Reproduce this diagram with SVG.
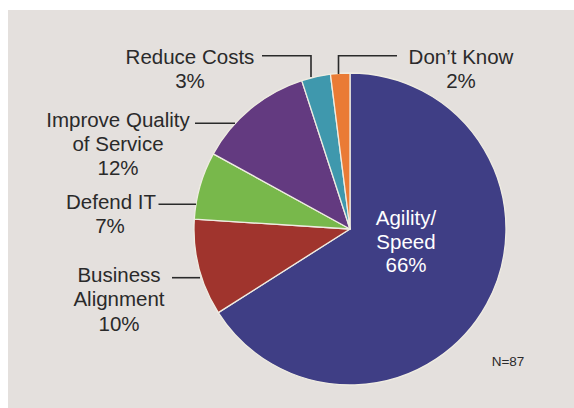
<svg xmlns="http://www.w3.org/2000/svg" width="574" height="408" viewBox="0 0 574 408">
<style>
.lbl{font-family:"Liberation Sans",Arial,sans-serif;font-size:20.5px;fill:#2a2a2a;text-anchor:middle}
.in{fill:#ffffff}
.note{font-size:13.5px}
.slice{stroke:#efece2;stroke-width:1.3;stroke-linejoin:round}
.lead{fill:none;stroke:#2a2a2a;stroke-width:1.6}
</style>
<rect x="0" y="0" width="574" height="408" fill="#ffffff"/>
<rect x="8" y="10" width="566" height="398" fill="#e4e0dd"/>
<g id="pie">
<path id="agility" class="slice" fill="#3f3e85" d="M350,229 L350,73 A156,156 0 1 1 218.28,312.59 Z"/>
<path id="business" class="slice" fill="#a0342d" d="M350,229 L218.28,312.59 A156,156 0 0 1 194.31,219.20 Z"/>
<path id="defend" class="slice" fill="#78b84b" d="M350,229 L194.31,219.20 A156,156 0 0 1 213.30,153.85 Z"/>
<path id="improve" class="slice" fill="#633a80" d="M350,229 L213.30,153.85 A156,156 0 0 1 301.79,80.63 Z"/>
<path id="reduce" class="slice" fill="#3f98ad" d="M350,229 L301.79,80.63 A156,156 0 0 1 330.45,74.23 Z"/>
<path id="dontknow" class="slice" fill="#ea7b35" d="M350,229 L330.45,74.23 A156,156 0 0 1 350,73 Z"/>
</g>
<g id="connectors">
<polyline class="lead" points="262,55.7 311,55.7 311,77"/>
<polyline class="lead" points="397,55.7 338.5,55.7 338.5,74"/>
<line class="lead" x1="195" y1="123.3" x2="235" y2="123.3"/>
<line class="lead" x1="158.5" y1="204.3" x2="196" y2="204.3"/>
<line class="lead" x1="172" y1="277.7" x2="200" y2="277.7"/>
</g>
<g id="label-reduce"><text class="lbl" x="190" y="64">Reduce Costs</text><text class="lbl" x="190" y="88">3%</text></g>
<g id="label-dontknow"><text class="lbl" x="461" y="64">Don’t Know</text><text class="lbl" x="461" y="88">2%</text></g>
<g id="label-improve"><text class="lbl" x="118" y="127">Improve Quality</text><text class="lbl" x="118" y="151">of Service</text><text class="lbl" x="118" y="175">12%</text></g>
<g id="label-defend"><text class="lbl" x="111" y="208.5">Defend IT</text><text class="lbl" x="110" y="232.5">7%</text></g>
<g id="label-business"><text class="lbl" x="119" y="282">Business</text><text class="lbl" x="119" y="306">Alignment</text><text class="lbl" x="119" y="330.5">10%</text></g>
<g id="label-agility"><text class="lbl in" x="406" y="224.5">Agility/</text><text class="lbl in" x="406" y="248.5">Speed</text><text class="lbl in" x="406" y="272">66%</text></g>
<g id="note"><text class="lbl note" x="508" y="366">N=87</text></g>
</svg>
